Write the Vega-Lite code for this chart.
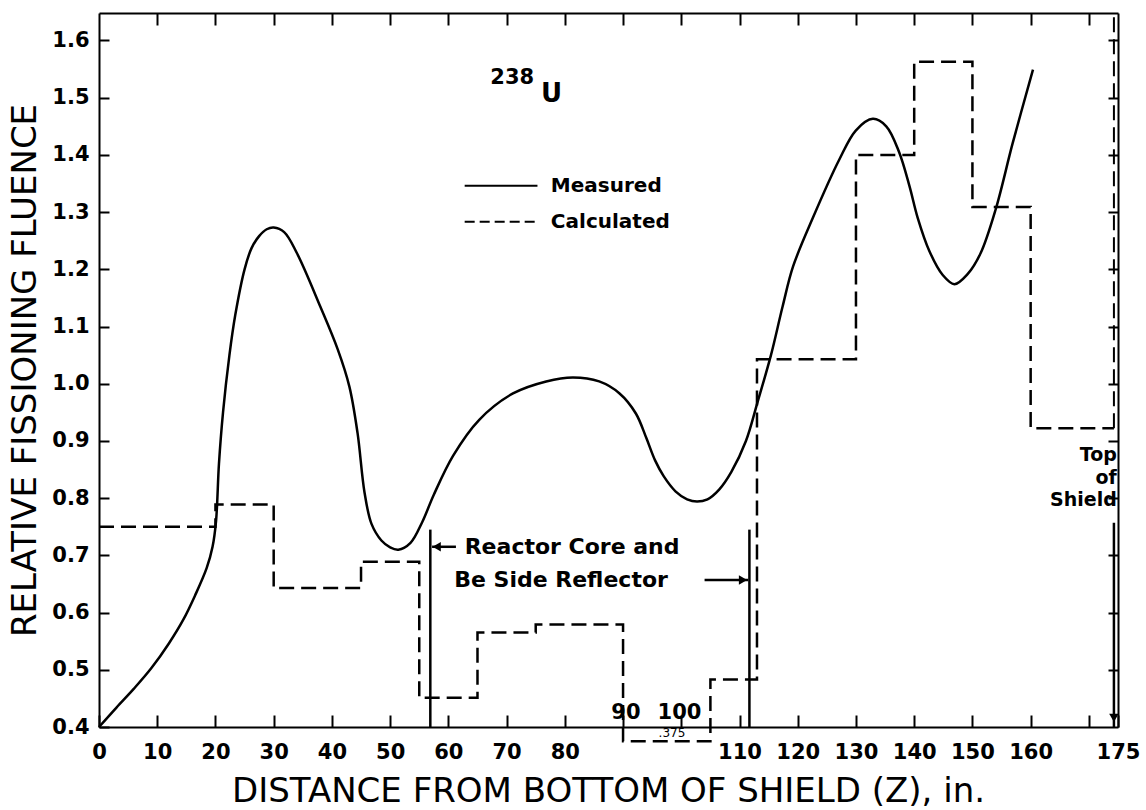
{
  "$schema": "https://vega.github.io/schema/vega-lite/v6.json",
  "autosize": {"type": "none"},
  "width": 1019,
  "height": 714,
  "padding": {"left": 99, "top": 13, "right": 28, "bottom": 83},
  "background": "white",
  "config": {
    "view": {"stroke": null},
    "axis": {
      "domainColor": "black", "domainWidth": 2, "tickColor": "black", "tickWidth": 2,
      "labelColor": "black", "titleColor": "black", "grid": false,
      "labelFont": "DejaVu Sans", "labelFontSize": 21, "labelFontWeight": "bold",
      "titleFont": "DejaVu Sans", "titleFontWeight": "normal"
    },
    "text": {"font": "DejaVu Sans", "color": "black"}
  },
  "datasets": {
    "measured": [
      {"x": 0, "y": 0.4}, {"x": 3, "y": 0.434}, {"x": 6, "y": 0.467}, {"x": 9, "y": 0.503}, {"x": 12, "y": 0.546},
      {"x": 14.5, "y": 0.588}, {"x": 16.5, "y": 0.63}, {"x": 18.5, "y": 0.678}, {"x": 19.5, "y": 0.715}, {"x": 20.1, "y": 0.76},
      {"x": 20.6, "y": 0.86}, {"x": 21.3, "y": 0.95}, {"x": 22.4, "y": 1.05}, {"x": 23.4, "y": 1.12}, {"x": 25.0, "y": 1.2},
      {"x": 26.2, "y": 1.237}, {"x": 27.5, "y": 1.258}, {"x": 28.8, "y": 1.27}, {"x": 30, "y": 1.273}, {"x": 31.8, "y": 1.265},
      {"x": 34, "y": 1.228}, {"x": 38, "y": 1.135}, {"x": 41, "y": 1.06}, {"x": 43, "y": 0.995}, {"x": 44.4, "y": 0.914},
      {"x": 45.6, "y": 0.81}, {"x": 46.8, "y": 0.755}, {"x": 48.5, "y": 0.726}, {"x": 50, "y": 0.714}, {"x": 51.4, "y": 0.71},
      {"x": 53.5, "y": 0.722}, {"x": 55.5, "y": 0.758}, {"x": 57.5, "y": 0.806}, {"x": 60.8, "y": 0.874}, {"x": 65.3, "y": 0.937},
      {"x": 71.1, "y": 0.983}, {"x": 76.8, "y": 1.004}, {"x": 81.4, "y": 1.011}, {"x": 85.9, "y": 1.004}, {"x": 89.4, "y": 0.983},
      {"x": 92.2, "y": 0.948}, {"x": 94, "y": 0.905}, {"x": 95.5, "y": 0.866}, {"x": 97, "y": 0.838}, {"x": 99, "y": 0.812},
      {"x": 101, "y": 0.798}, {"x": 102.7, "y": 0.794}, {"x": 104.5, "y": 0.798}, {"x": 106.5, "y": 0.815}, {"x": 108.6, "y": 0.846},
      {"x": 111.1, "y": 0.9}, {"x": 113.1, "y": 0.968}, {"x": 115.4, "y": 1.05},
      {"x": 117.4, "y": 1.135}, {"x": 119.2, "y": 1.205}, {"x": 122.6, "y": 1.29}, {"x": 127.1, "y": 1.391}, {"x": 130, "y": 1.443},
      {"x": 132.9, "y": 1.463}, {"x": 135.2, "y": 1.45}, {"x": 137.4, "y": 1.405}, {"x": 139.2, "y": 1.345}, {"x": 140.6, "y": 1.29},
      {"x": 142.6, "y": 1.232}, {"x": 144.9, "y": 1.19}, {"x": 146.9, "y": 1.174}, {"x": 149.2, "y": 1.192}, {"x": 151.4, "y": 1.228},
      {"x": 154, "y": 1.305}, {"x": 156.9, "y": 1.42}, {"x": 160.4, "y": 1.549}
    ],
    "calculated": [
      {"x": 0, "y": 0.75}, {"x": 20, "y": 0.789}, {"x": 30, "y": 0.643}, {"x": 45, "y": 0.689}, {"x": 55, "y": 0.451},
      {"x": 65, "y": 0.565}, {"x": 75, "y": 0.579}, {"x": 90, "y": 0.375}, {"x": 105, "y": 0.483}, {"x": 113, "y": 1.043},
      {"x": 130, "y": 1.4}, {"x": 140, "y": 1.563}, {"x": 150, "y": 1.309}, {"x": 160, "y": 0.922}, {"x": 174.3, "y": 0.922}
    ],
    "legend": [
      {"x": 62.8, "x2": 75.3, "y": 1.346, "label": "Measured", "tx": 77.6},
      {"x": 62.8, "x2": 75.3, "y": 1.283, "label": "Calculated", "tx": 77.6}
    ],
    "vlines": [
      {"x": 56.9, "y": 0.4, "y2": 0.745},
      {"x": 111.7, "y": 0.4, "y2": 0.745},
      {"x": 174.3, "y": 0.4, "y2": 0.757}
    ],
    "hlines": [
      {"x": 57.2, "x2": 61.3, "y": 0.715},
      {"x": 104.0, "x2": 111.5, "y": 0.657}
    ],
    "heads": [
      {"x": 58.0, "y": 0.715, "dir": "left"},
      {"x": 110.6, "y": 0.657, "dir": "right"},
      {"x": 174.3, "y": 0.416, "dir": "down"}
    ],
    "notes": [
      {"x": 62.8, "y": 0.715, "text": "Reactor Core and"},
      {"x": 61.0, "y": 0.657, "text": "Be Side Reflector"}
    ],
    "shield": [
      {"x": 174.8, "y": 0.876, "text": "Top"},
      {"x": 174.8, "y": 0.836, "text": "of"},
      {"x": 174.8, "y": 0.797, "text": "Shield"}
    ],
    "ticklabels": [
      {"x": 90.5, "y": 0.425, "text": "90"},
      {"x": 99.7, "y": 0.425, "text": "100"}
    ]
  },
  "encoding": {
    "x": {"field": "x", "type": "quantitative", "scale": {"domain": [0, 175], "nice": false, "zero": false}, "axis": null},
    "y": {"field": "y", "type": "quantitative", "scale": {"domain": [0.4, 1.648], "nice": false, "zero": false}, "axis": null}
  },
  "resolve": {"axis": {"x": "independent", "y": "independent"}},
  "layer": [
    {
      "data": {"name": "measured"},
      "mark": {"type": "line", "interpolate": "catmull-rom", "color": "black", "strokeWidth": 2.5, "clip": false},
      "encoding": {
        "x": {"field": "x", "type": "quantitative", "scale": {"domain": [0, 175], "nice": false, "zero": false},
          "axis": {"orient": "bottom", "values": [0,10,20,30,40,50,60,70,80,90,100,110,120,130,140,150,160,170,175],
            "labelExpr": "datum.value == 90 || datum.value == 100 || datum.value == 170 ? '' : datum.value",
            "tickSize": -12, "labelPadding": 26, "labelFlush": false, "labelOverlap": false,
            "title": "DISTANCE FROM BOTTOM OF SHIELD (Z), in.", "titleFontSize": 34,
            "titleX": 509, "titleY": 64, "titleAnchor": null, "titleAlign": "center", "titleBaseline": "middle"}},
        "y": {"field": "y", "type": "quantitative", "scale": {"domain": [0.4, 1.648], "nice": false, "zero": false},
          "axis": {"orient": "left", "values": [0.4,0.5,0.6,0.7,0.8,0.9,1.0,1.1,1.2,1.3,1.4,1.5,1.6], "format": ".1f",
            "tickSize": -10, "labelPadding": 20, "labelFlush": false, "labelOverlap": false,
            "title": "RELATIVE FISSIONING FLUENCE", "titleFontSize": 34, "titleAngle": -90,
            "titleX": -74, "titleY": 357, "titleAlign": "center", "titleBaseline": "middle"}}
      }
    },
    {
      "data": {"name": "calculated"},
      "mark": {"type": "line", "interpolate": "step-after", "color": "black", "strokeWidth": 2.5, "strokeDash": [15, 7], "clip": false},
      "encoding": {
        "x": {"field": "x", "type": "quantitative", "scale": {"domain": [0, 175], "nice": false, "zero": false},
          "axis": {"orient": "top", "values": [10,20,30,40,50,60,70,80,90,100,110,120,130,140,150,160,170],
            "labels": false, "tickSize": -12, "title": null}},
        "y": {"field": "y", "type": "quantitative", "scale": {"domain": [0.4, 1.648], "nice": false, "zero": false},
          "axis": {"orient": "right", "values": [0.5,0.6,0.7,0.8,0.9,1.0,1.1,1.2,1.3,1.4,1.5,1.6],
            "labels": false, "tickSize": -10, "title": null}}
      }
    },
    {
      "data": {"values": [{"x": 174.3, "y": 0.922, "y2": 1.648}]},
      "mark": {"type": "rule", "color": "black", "strokeWidth": 2, "strokeDash": [15, 7]},
      "encoding": {"y2": {"field": "y2"}}
    },
    {
      "data": {"name": "vlines"},
      "mark": {"type": "rule", "color": "black", "strokeWidth": 2.5},
      "encoding": {"y2": {"field": "y2"}}
    },
    {
      "data": {"name": "hlines"},
      "mark": {"type": "rule", "color": "black", "strokeWidth": 2.5},
      "encoding": {"x2": {"field": "x2"}}
    },
    {
      "data": {"name": "heads"},
      "mark": {"type": "point", "filled": true, "color": "black", "opacity": 1, "size": 90},
      "encoding": {
        "shape": {"field": "dir", "type": "nominal", "scale": {"domain": ["left", "right", "down"], "range": ["triangle-left", "triangle-right", "triangle-down"]}, "legend": null}
      }
    },
    {
      "data": {"name": "legend"},
      "transform": [{"filter": "datum.label == 'Measured'"}],
      "mark": {"type": "rule", "color": "black", "strokeWidth": 2},
      "encoding": {"x2": {"field": "x2"}}
    },
    {
      "data": {"name": "legend"},
      "transform": [{"filter": "datum.label == 'Calculated'"}],
      "mark": {"type": "rule", "color": "black", "strokeWidth": 2, "strokeDash": [10, 5]},
      "encoding": {"x2": {"field": "x2"}}
    },
    {
      "data": {"name": "legend"},
      "mark": {"type": "text", "align": "left", "baseline": "middle", "fontSize": 20, "fontWeight": "bold"},
      "encoding": {"x": {"field": "tx", "type": "quantitative"}, "text": {"field": "label"}}
    },
    {
      "data": {"name": "notes"},
      "mark": {"type": "text", "align": "left", "baseline": "middle", "fontSize": 22, "fontWeight": "bold"},
      "encoding": {"text": {"field": "text"}}
    },
    {
      "data": {"name": "shield"},
      "mark": {"type": "text", "align": "right", "baseline": "middle", "fontSize": 19, "fontWeight": "bold"},
      "encoding": {"text": {"field": "text"}}
    },
    {
      "data": {"name": "ticklabels"},
      "mark": {"type": "text", "align": "center", "baseline": "middle", "fontSize": 21, "fontWeight": "bold"},
      "encoding": {"text": {"field": "text"}}
    },
    {
      "data": {"values": [{"x": 98.4, "y": 0.39, "text": ".375"}]},
      "mark": {"type": "text", "align": "center", "baseline": "middle", "fontSize": 12},
      "encoding": {"text": {"field": "text"}}
    },
    {
      "data": {"values": [{"x": 67.2, "y": 1.534, "text": "238"}]},
      "mark": {"type": "text", "align": "left", "baseline": "middle", "fontSize": 21, "fontWeight": "bold"},
      "encoding": {"text": {"field": "text"}}
    },
    {
      "data": {"values": [{"x": 75.9, "y": 1.507, "text": "U"}]},
      "mark": {"type": "text", "align": "left", "baseline": "middle", "fontSize": 26, "fontWeight": "bold"},
      "encoding": {"text": {"field": "text"}}
    }
  ]
}
